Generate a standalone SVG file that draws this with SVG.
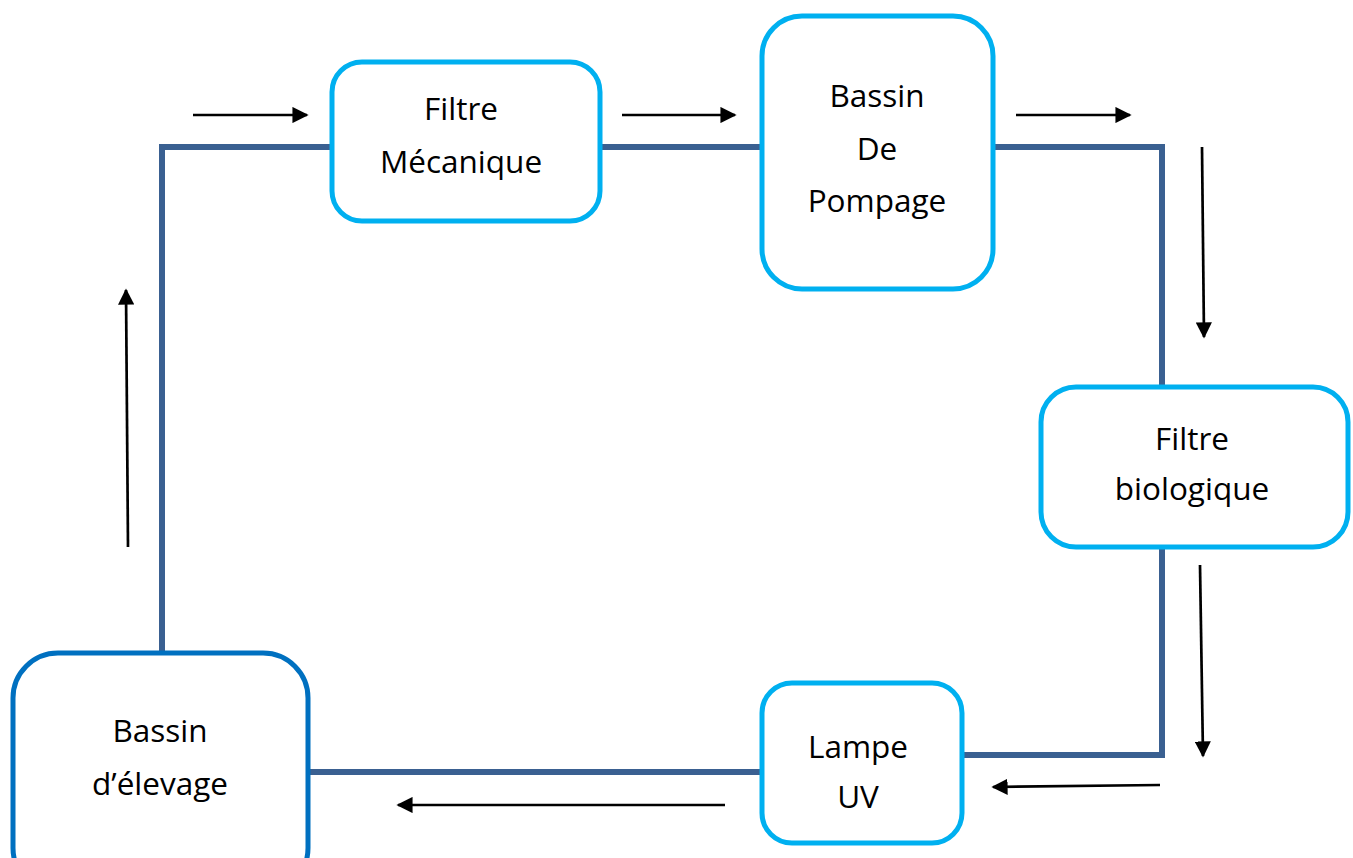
<svg xmlns="http://www.w3.org/2000/svg" width="1353" height="858" viewBox="0 0 1353 858">
<style>
.box{fill:#fff;stroke:#00B0F0;stroke-width:5}
.box2{fill:#fff;stroke:#0070C0;stroke-width:5}
.lbl{font-family:"Open Sans","Liberation Sans",sans-serif;font-size:31.5px;fill:#000;text-anchor:middle}
.pipe{fill:none;stroke:#3A6091;stroke-width:6}
.arr{fill:none;stroke:#000;stroke-width:2.7;marker-end:url(#ah)}
</style>
<defs>
<marker id="ah" viewBox="0 0 10 10" refX="9" refY="5" markerWidth="6" markerHeight="6" markerUnits="strokeWidth" orient="auto">
<path d="M0,0 L10,5 L0,10 Z" fill="#000"/>
</marker>
</defs>
<rect width="1353" height="858" fill="#fff"/>
<g id="connectors">
<polyline class="pipe" points="162,653 162,147 332,147"/>
<line class="pipe" x1="600" y1="147" x2="762" y2="147"/>
<polyline class="pipe" points="993,147 1162,147 1162,387"/>
<polyline class="pipe" points="1162,547 1162,755 962,755"/>
<line class="pipe" x1="762" y1="772" x2="308" y2="772"/>
<line class="arr" x1="193" y1="115" x2="307" y2="115"/>
<line class="arr" x1="622" y1="115" x2="735" y2="115"/>
<line class="arr" x1="1016" y1="115" x2="1130" y2="115"/>
<line class="arr" x1="1202" y1="147" x2="1204" y2="337"/>
<line class="arr" x1="1200" y1="565" x2="1203" y2="756"/>
<line class="arr" x1="1160" y1="785" x2="993" y2="787"/>
<line class="arr" x1="725" y1="805" x2="398" y2="805"/>
<line class="arr" x1="128" y1="547" x2="126" y2="290"/>
</g>
<g id="filtre-mecanique">
<rect class="box" x="332" y="62" width="268" height="159" rx="30"/>
<text class="lbl" x="461" y="120">Filtre</text>
<text class="lbl" x="461" y="173">Mécanique</text>
</g>
<g id="bassin-pompage">
<rect class="box" x="762" y="16" width="231" height="273" rx="40"/>
<text class="lbl" x="877" y="107">Bassin</text>
<text class="lbl" x="877" y="160">De</text>
<text class="lbl" x="877" y="212">Pompage</text>
</g>
<g id="filtre-biologique">
<rect class="box" x="1041" y="387" width="307" height="160" rx="35"/>
<text class="lbl" x="1192" y="450">Filtre</text>
<text class="lbl" x="1192" y="500">biologique</text>
</g>
<g id="lampe-uv">
<rect class="box" x="762" y="683" width="200" height="160" rx="30"/>
<text class="lbl" x="858" y="758">Lampe</text>
<text class="lbl" x="858" y="808">UV</text>
</g>
<g id="bassin-elevage">
<rect class="box2" x="13" y="653" width="295" height="240" rx="45"/>
<text class="lbl" x="160" y="742">Bassin</text>
<text class="lbl" x="160" y="795">d’élevage</text>
</g>
</svg>
